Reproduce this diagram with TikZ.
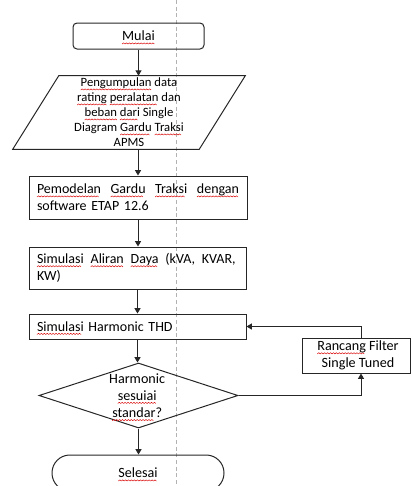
\documentclass[tikz,border=0pt]{standalone}
\usepackage{fontspec}
\setmainfont{Carlito}
\usetikzlibrary{shapes.geometric,arrows.meta}
\newbox\sqbox
\newcommand\wavepiece{\tikz[x=1pt,y=1pt,baseline=0pt,sharp corners]{\useasboundingbox (0,0) rectangle (2.2,0.9);
  \draw[red!85!black,line width=0.35pt,sharp corners] (0,0) -- (1.1,0.9) -- (2.2,0);}}
\newcommand\sq[1]{\setbox\sqbox\hbox{#1}\leavevmode
  \rlap{\raisebox{-2.4pt}[0pt][0pt]{\hbox to \wd\sqbox{\leaders\hbox{\wavepiece}\hfill}}}\box\sqbox}
\tikzset{
  px/.style={x=0.75pt,y=-0.75pt},
  ln/.style={black!85,line width=0.75pt},
  arr/.style={ln,-{Triangle[width=4.5pt,length=4pt]}},
  boxtxt/.style={draw=black!85,line width=0.75pt,rectangle,align=left,inner xsep=6pt,inner ysep=0pt,
    font=\fontsize{10.5}{12.75}\selectfont},
  ctxt/.style={align=center,font=\fontsize{10.6}{12.9}\selectfont,inner sep=0pt},
}
\begin{document}
\begin{tikzpicture}[px]
\useasboundingbox (0,0) rectangle (412,486);
\clip (0,0) rectangle (412,486);
\draw[black!30,line width=0.6pt,dash pattern=on 3pt off 2pt] (176,0) -- (176,486);

% Mulai
\node[draw=black!85,line width=0.75pt,rounded corners=3pt,minimum width=98.25pt,minimum height=19.5pt,
  ctxt] (mulai) at (138.5,36) {\sq{Mulai}};

% data (parallelogram)
\node[minimum width=139.5pt,minimum height=54.75pt,inner sep=0pt,align=center,
  font=\fontsize{9.5}{11.25}\selectfont] (data) at (129,112.5)
  {\sq{Pengumpulan} data\\ \sq{rating} \sq{peralatan} dan\\ \sq{beban} \sq{dari} Single\\ Diagram \sq{Gardu} \sq{Traksi}\\ APMS};
\draw[ln] ([xshift=17.25pt]data.north west) -- ([xshift=17.25pt]data.north east)
  -- ([xshift=-17.25pt]data.south east) -- ([xshift=-17.25pt]data.south west) -- cycle;

% boxes
\node[boxtxt,text width=151.5pt,minimum height=32.25pt] (model) at (138,197.5)
  {\hbox to 151.5pt{\sq{Pemodelan}\hfill\sq{Gardu}\hfill\sq{Traksi}\hfill\sq{dengan}}\\ software ETAP 12.6};
\node[boxtxt,text width=150.75pt,minimum height=31.5pt] (aliran) at (137.5,268)
  {\hbox to 149pt{\sq{Simulasi}\hfill\sq{Aliran}\hfill\sq{Daya}\hfill(kVA,\hfill KVAR,}\\ KW)};
\node[boxtxt,text width=150.75pt,minimum height=18.75pt] (harm) at (137.5,326.5)
  {\sq{Simulasi} Harmonic THD};

% decision
\node[diamond,draw=black!85,line width=0.75pt,minimum width=149.25pt,minimum height=48.75pt,inner sep=0pt,
  label={[ctxt,xshift=-1pt]center:Harmonic\\ \sq{sesuiai}\\ \sq{standar}?}] (dec) at (138.5,395.5) {};

% selesai
\node[draw=black!85,line width=0.75pt,rounded corners=13.4pt,minimum width=129pt,minimum height=27pt,
  ctxt] (selesai) at (138,473) {\sq{Selesai}};

% rancang
\node[draw=black!85,line width=0.75pt,minimum width=81pt,minimum height=26.25pt,ctxt,
  font=\fontsize{10.6}{12.75}\selectfont] (rancang) at (356,355.5) {\hspace{3pt}\sq{Rancang} Filter\\ \hspace{3pt}Single Tuned};
\coordinate (rin) at ([xshift=3.75pt]rancang.south);
\coordinate (rout) at ([xshift=3.75pt]rancang.north);

% connectors
\draw[arr] (mulai.south) -- (mulai.south |- data.north);
\draw[arr] (model.north |- data.south) -- (model.north);
\draw[arr] (model.south) -- (model.south |- aliran.north);
\draw[arr] (aliran.south) -- (aliran.south |- harm.north);
\draw[arr] (harm.south) -- (harm.south |- dec.north);
\draw[arr] (dec.south) -- (dec.south |- selesai.north);
\draw[arr] (dec.east) -| (rin);
\draw[arr] (rout) |- (harm.east);
\end{tikzpicture}
\end{document}
